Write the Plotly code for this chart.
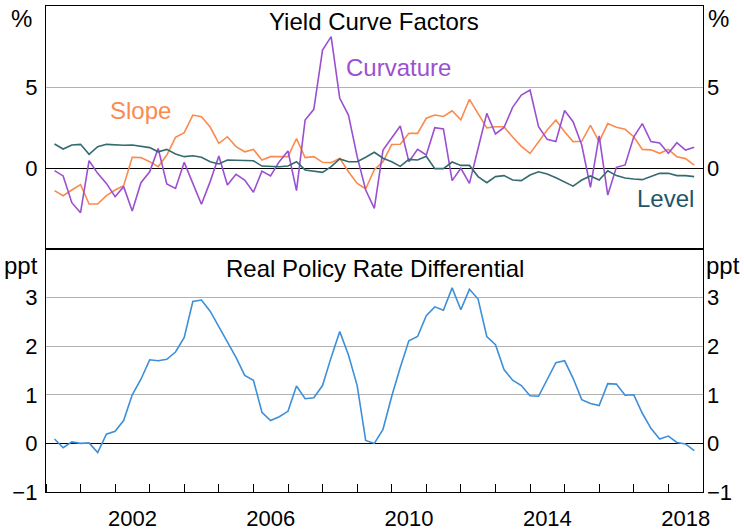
import pandas as pd
import plotly.graph_objects as go

# Quarterly observations, Mar-2000 .. Sep-2018
dates = pd.date_range("2000-03-31", periods=75, freq="QE").strftime("%Y-%m-%d").tolist()

level = [1.48, 1.17, 1.42, 1.46, 0.84, 1.32, 1.46, 1.42, 1.40, 1.42,
         1.32, 1.26, 1.00, 1.15, 0.86, 0.70, 0.76, 0.66, 0.39, 0.25,
         0.49, 0.49, 0.45, 0.45, 0.12, 0.08, 0.08, 0.12, 0.39, -0.12,
         -0.19, -0.27, 0.08, 0.56, 0.39, 0.39, 0.66, 0.97, 0.60, 0.39,
         0.10, 0.53, 0.49, 0.72, -0.04, -0.04, 0.37, 0.16, 0.16, -0.53,
         -0.91, -0.53, -0.47, -0.74, -0.78, -0.43, -0.23, -0.37, -0.60, -0.85,
         -1.12, -0.74, -0.49, -0.74, -0.17, -0.47, -0.62, -0.68, -0.72, -0.53,
         -0.33, -0.33, -0.47, -0.47, -0.53]

slope = [-1.40, -1.71, -1.36, -1.03, -2.22, -2.22, -1.71, -1.36, -1.09, 0.66,
         0.64, 0.39, 0.08, 0.80, 1.89, 2.18, 3.27, 3.17, 2.53, 1.52,
         1.93, 1.32, 1.00, 1.15, 0.49, 0.70, 0.70, 0.70, 1.82, 0.64,
         0.70, 0.35, 0.33, 0.60, -0.23, -0.95, -1.28, -0.10, 0.39, 1.45,
         1.47, 2.14, 2.14, 3.07, 3.27, 3.18, 3.53, 2.98, 4.24, 3.33,
         2.48, 2.55, 2.55, 1.91, 1.34, 0.90, 1.60, 2.35, 2.96, 2.24,
         1.63, 1.65, 2.63, 1.63, 2.74, 2.51, 2.39, 1.93, 1.15, 1.12,
         0.91, 1.15, 0.70, 0.58, 0.18]

curvature = [-0.16, -0.49, -2.14, -2.76, 0.45, -0.33, -0.95, -1.77, -1.15, -2.65,
             -0.91, -0.23, 1.21, -0.99, -1.26, 0.35, -0.95, -2.24, -0.84, 0.74,
             -1.05, -0.39, -0.74, -1.50, -0.19, -0.49, 0.39, 1.05, -1.40, 2.96,
             3.62, 7.28, 8.11, 4.30, 3.27, 0.70, -1.36, -2.49, 1.11, 1.83,
             2.59, 0.39, 1.15, 0.80, 2.49, 2.41, -0.78, -0.02, -0.95, 1.20,
             3.37, 2.10, 2.50, 3.74, 4.50, 4.81, 2.55, 1.77, 1.63, 3.55,
             2.86, 1.42, -1.19, 1.98, -1.67, 0.04, 0.19, 1.93, 2.74, 1.63,
             1.54, 0.91, 1.56, 1.11, 1.28]

rate_diff = [0.09, -0.09, 0.03, 0.00, 0.01, -0.19, 0.19, 0.25, 0.47, 1.00,
             1.32, 1.72, 1.70, 1.73, 1.88, 2.18, 2.92, 2.95, 2.72, 2.39,
             2.07, 1.77, 1.40, 1.30, 0.64, 0.47, 0.55, 0.66, 1.18, 0.92,
             0.94, 1.19, 1.77, 2.30, 1.82, 1.19, 0.06, 0.00, 0.29, 0.97,
             1.56, 2.11, 2.20, 2.63, 2.81, 2.74, 3.20, 2.75, 3.17, 2.97,
             2.20, 2.03, 1.52, 1.30, 1.19, 0.98, 0.97, 1.32, 1.66, 1.70,
             1.34, 0.90, 0.82, 0.78, 1.23, 1.22, 0.99, 1.00, 0.62, 0.31,
             0.09, 0.15, 0.02, -0.01, -0.15]

year_labels = ["2002", "2006", "2010", "2014", "2018"]
label_dates = [y + "-07-02" for y in year_labels]

top_ticks = [0, 5]
bottom_ticks = [-1, 0, 1, 2, 3]

FONT = "Liberation Sans, Arial, sans-serif"
C_LEVEL = "#336b6e"
C_SLOPE = "#fb8a4e"
C_CURV = "#9b4fd1"
C_RATE = "#3d8fd9"
FS_TEXT = 24
FS_TICK = 22

fig = go.Figure()
fig.add_trace(go.Scatter(x=dates, y=slope, mode="lines", line=dict(color=C_SLOPE, width=1.6),
                         xaxis="x", yaxis="y", showlegend=False))
fig.add_trace(go.Scatter(x=dates, y=curvature, mode="lines", line=dict(color=C_CURV, width=1.6),
                         xaxis="x", yaxis="y", showlegend=False))
fig.add_trace(go.Scatter(x=dates, y=level, mode="lines", line=dict(color=C_LEVEL, width=1.6),
                         xaxis="x", yaxis="y3", showlegend=False))
fig.add_trace(go.Scatter(x=dates, y=rate_diff, mode="lines", line=dict(color=C_RATE, width=1.6),
                         xaxis="x2", yaxis="y2", showlegend=False))
fig.add_trace(go.Scatter(x=dates, y=rate_diff, mode="lines", line=dict(color=C_RATE, width=0),
                         opacity=0, hoverinfo="skip", xaxis="x2", yaxis="y4", showlegend=False))

xrange = ["2000-01-01", "2019-01-01"]
tickfont = dict(family=FONT, size=FS_TICK, color="black")

common_y = dict(showline=True, linecolor="black", linewidth=1.3, mirror=True,
                showgrid=True, gridcolor="#b3b3b3", gridwidth=1,
                zeroline=True, zerolinecolor="black", zerolinewidth=1.3,
                ticks="", tickfont=tickfont, ticklabelstandoff=3, automargin=False)
right_y = dict(showgrid=False, zeroline=False, showline=False, ticks="", tickfont=tickfont,
               ticklabelstandoff=3, automargin=False)

fig.update_layout(
    width=744, height=532,
    margin=dict(l=46, r=41, t=6, b=40, autoexpand=False),
    paper_bgcolor="white", plot_bgcolor="white",
    font=dict(family=FONT, size=FS_TICK, color="black"),
    xaxis=dict(domain=[0, 1], anchor="y", range=xrange, type="date",
               showline=True, linecolor="black", linewidth=1.3, mirror=True,
               showgrid=False, showticklabels=False, ticks="", automargin=False),
    xaxis2=dict(domain=[0, 1], anchor="y2", range=xrange, type="date",
                showline=True, linecolor="black", linewidth=1.3, mirror=True,
                showgrid=False, tickvals=label_dates, ticktext=year_labels,
                ticks="", tickfont=tickfont, ticklabelstandoff=6, automargin=False,
                minor=dict(ticks="inside", ticklen=8, tickwidth=1.3, tickcolor="black",
                           dtick="M12", tick0="2000-01-01", showgrid=False)),
    yaxis=dict(domain=[0.5, 1], anchor="x", range=[-5, 10], tickvals=top_ticks, **common_y),
    yaxis3=dict(overlaying="y", side="right", anchor="x", range=[-5, 10], tickvals=top_ticks,
                **right_y),
    yaxis2=dict(domain=[0, 0.5], anchor="x2", range=[-1, 4], tickvals=bottom_ticks, **common_y),
    yaxis4=dict(overlaying="y2", side="right", anchor="x2", range=[-1, 4], tickvals=bottom_ticks,
                **right_y),
)

def px_to_paper(px, py):
    return (px - 46) / 657, (492 - py) / 486

def add_text(text, px, py, color="black", xanchor="center"):
    x, y = px_to_paper(px, py)
    fig.add_annotation(text=text, x=x, y=y, xref="paper", yref="paper", showarrow=False,
                       xanchor=xanchor, yanchor="middle",
                       font=dict(family=FONT, size=FS_TEXT, color=color))

add_text("Yield Curve Factors", 374, 22)
add_text("Curvature", 398, 67, C_CURV)
add_text("Slope", 140, 111, C_SLOPE)
add_text("Level", 665, 198, "#1f5566")
add_text("Real Policy Rate Differential", 375, 268)
add_text("%", 21, 18)
add_text("%", 718, 18)
add_text("ppt", 21, 265)
add_text("ppt", 723, 265)

fig.write_html("out.html", config={"displayModeBar": False},
               post_script="document.body.style.margin='0';document.body.style.overflow='hidden';")
